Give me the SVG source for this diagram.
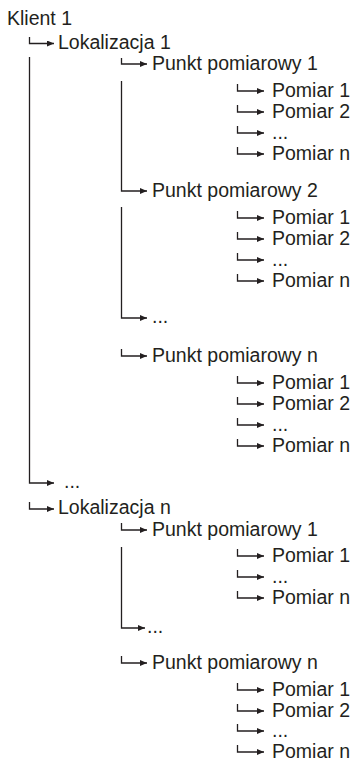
<svg xmlns="http://www.w3.org/2000/svg" width="355" height="764" viewBox="0 0 355 764">
<defs>
<style>
text{font-family:"Liberation Sans",Arial,sans-serif;font-size:19.5px;fill:#231f20}
.c{fill:none;stroke:#231f20;stroke-width:1.3;marker-end:url(#ah)}
</style>
<marker id="ah" viewBox="0 0 7 6" refX="7" refY="3" markerWidth="7" markerHeight="6" markerUnits="userSpaceOnUse" orient="auto"><path d="M0,0 L7,3 L0,6 z" fill="#231f20"/></marker>
</defs>
<rect width="355" height="764" fill="#fff"/>
<g id="connectors">
<path class="c" d="M29.5,37 V43.5 H54"/>
<path class="c" d="M121.5,58 V64 H147"/>
<path class="c" d="M237.5,84 V91 H264"/>
<path class="c" d="M237.5,105 V112 H264"/>
<path class="c" d="M237.5,126 V133 H264"/>
<path class="c" d="M237.5,147 V154 H264"/>
<path class="c" d="M121.5,81 V191 H147"/>
<path class="c" d="M237.5,211 V218 H264"/>
<path class="c" d="M237.5,232 V239 H264"/>
<path class="c" d="M237.5,253 V260 H264"/>
<path class="c" d="M237.5,274 V281 H264"/>
<path class="c" d="M121.5,207 V318 H147"/>
<path class="c" d="M121.5,349 V356 H147"/>
<path class="c" d="M237.5,376 V383 H264"/>
<path class="c" d="M237.5,397 V404 H264"/>
<path class="c" d="M237.5,418 V425 H264"/>
<path class="c" d="M237.5,439 V446 H264"/>
<path class="c" d="M29.5,57 V483 H54"/>
<path class="c" d="M29.5,502 V509 H54"/>
<path class="c" d="M121.5,523 V530 H147"/>
<path class="c" d="M237.5,549 V556 H264"/>
<path class="c" d="M237.5,570 V577 H264"/>
<path class="c" d="M237.5,591 V598 H264"/>
<path class="c" d="M121.5,547 V628 H145"/>
<path class="c" d="M121.5,656 V663 H147"/>
<path class="c" d="M237.5,683 V690 H264"/>
<path class="c" d="M237.5,704 V711 H264"/>
<path class="c" d="M237.5,724 V731 H264"/>
<path class="c" d="M237.5,745 V752 H264"/>
</g>
<g id="klient1"><text x="7" y="25">Klient 1</text></g>
<g id="lok1"><text x="58" y="48.5">Lokalizacja 1</text></g>
<g id="lok1-pp1"><text x="152" y="70">Punkt pomiarowy 1</text></g>
<g id="lok1-pp1-m1"><text x="272" y="97">Pomiar 1</text></g>
<g id="lok1-pp1-m2"><text x="272" y="118">Pomiar 2</text></g>
<g id="lok1-pp1-mdots"><text x="272" y="139">...</text></g>
<g id="lok1-pp1-mn"><text x="272" y="160">Pomiar n</text></g>
<g id="lok1-pp2"><text x="152" y="197">Punkt pomiarowy 2</text></g>
<g id="lok1-pp2-m1"><text x="272" y="224">Pomiar 1</text></g>
<g id="lok1-pp2-m2"><text x="272" y="245">Pomiar 2</text></g>
<g id="lok1-pp2-mdots"><text x="272" y="266">...</text></g>
<g id="lok1-pp2-mn"><text x="272" y="287">Pomiar n</text></g>
<g id="lok1-ppdots"><text x="152" y="323">...</text></g>
<g id="lok1-ppn"><text x="152" y="362">Punkt pomiarowy n</text></g>
<g id="lok1-ppn-m1"><text x="272" y="389">Pomiar 1</text></g>
<g id="lok1-ppn-m2"><text x="272" y="410">Pomiar 2</text></g>
<g id="lok1-ppn-mdots"><text x="272" y="431">...</text></g>
<g id="lok1-ppn-mn"><text x="272" y="452">Pomiar n</text></g>
<g id="lokdots"><text x="64" y="488">...</text></g>
<g id="lokn"><text x="58" y="514">Lokalizacja n</text></g>
<g id="lokn-pp1"><text x="152" y="536">Punkt pomiarowy 1</text></g>
<g id="lokn-pp1-m1"><text x="272" y="562">Pomiar 1</text></g>
<g id="lokn-pp1-mdots"><text x="272" y="583">...</text></g>
<g id="lokn-pp1-mn"><text x="272" y="604">Pomiar n</text></g>
<g id="lokn-ppdots"><text x="147" y="633">...</text></g>
<g id="lokn-ppn"><text x="152" y="669">Punkt pomiarowy n</text></g>
<g id="lokn-ppn-m1"><text x="272" y="696">Pomiar 1</text></g>
<g id="lokn-ppn-m2"><text x="272" y="717">Pomiar 2</text></g>
<g id="lokn-ppn-mdots"><text x="272" y="737">...</text></g>
<g id="lokn-ppn-mn"><text x="272" y="758">Pomiar n</text></g>
</svg>
